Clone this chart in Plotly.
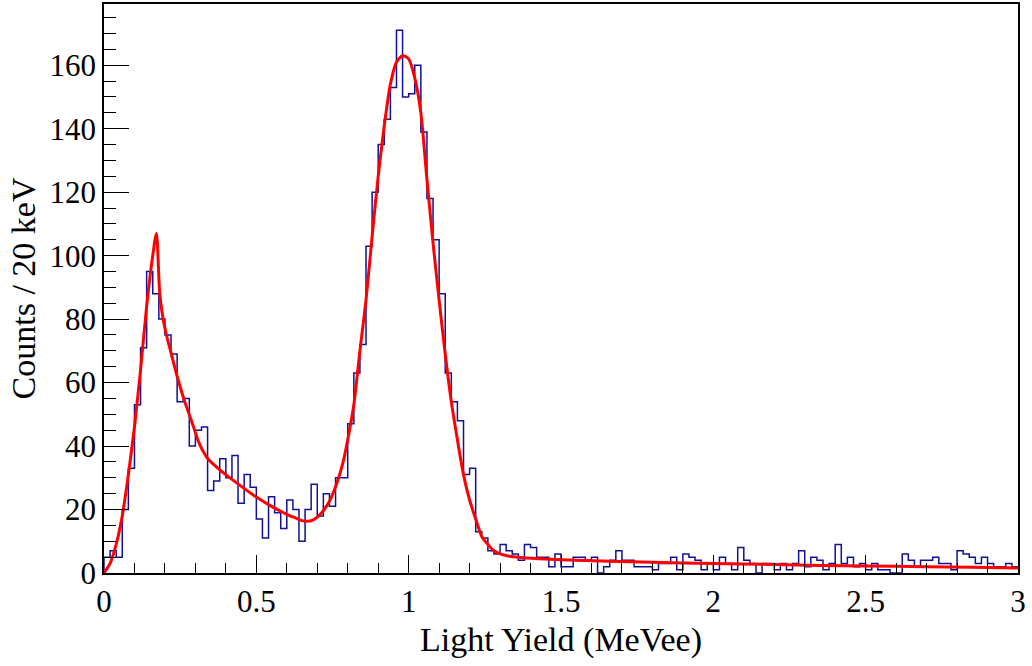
import numpy as np
import plotly.graph_objects as go

# ---- data ----
x_min, x_max, n_bins = 0.0, 3.0, 150
counts = [5, 7, 5, 20, 33, 53, 71, 95, 88, 80, 75, 69, 54, 55, 40, 45, 46, 26, 29, 36,
          30, 37, 22, 31, 27, 17, 11, 24, 19, 14, 23, 20, 10, 20, 28, 18, 25, 21, 30, 30,
          47, 63, 72, 103, 120, 135, 143, 153, 171, 150, 151, 160, 139, 118, 105, 88, 63, 54, 48, 31,
          33, 13, 11, 7, 6, 9, 7, 6, 4, 9, 8, 5, 5, 2, 6, 2, 2, 5, 5, 4,
          5, 0, 2, 4, 7, 4, 4, 2, 2, 2, 1, 3, 3, 5, 1, 6, 5, 4, 1, 3,
          1, 5, 3, 1, 8, 4, 3, 0, 3, 3, 1, 3, 1, 3, 7, 2, 5, 4, 1, 3,
          9, 3, 5, 2, 3, 1, 3, 1, 1, 0, 0, 6, 4, 2, 4, 4, 5, 3, 3, 1,
          7, 6, 5, 3, 5, 3, 2, 2, 3, 2]

fit_x = [0.0, 0.02, 0.04, 0.06, 0.08, 0.10, 0.12, 0.14, 0.16, 0.172, 0.183, 0.194, 0.205,
         0.221, 0.24, 0.265, 0.287, 0.314, 0.341, 0.38, 0.42, 0.49, 0.55, 0.60, 0.63, 0.65,
         0.67, 0.69, 0.71, 0.74, 0.765, 0.785, 0.80, 0.82, 0.84, 0.86, 0.88, 0.90, 0.92, 0.94,
         0.96, 0.98, 1.00, 1.02, 1.04, 1.06, 1.08, 1.10, 1.12, 1.14, 1.16, 1.18, 1.20, 1.22,
         1.24, 1.26, 1.28, 1.30, 1.33, 1.37, 1.45, 1.55, 1.66, 1.8, 2.0, 2.2, 2.35, 2.5, 2.7,
         2.85, 3.0]
fit_y = [0.0, 3, 9, 18, 31, 46, 64, 84, 100, 107, 88, 80, 75,
         69, 62, 54, 48, 40.5, 36, 32.5, 29.5, 24.6, 21, 18.5, 17.3, 16.5,
         16.3, 16.9, 18.5, 22.6, 28.5, 35, 42, 53, 70, 86, 106, 125, 141, 154,
         161, 163, 162, 156, 145, 124, 104, 86, 69, 54, 42, 31, 23, 17,
         11.5, 9, 7, 6, 5.3, 4.9, 4.4, 4.0, 3.7, 3.4, 3.0, 2.7, 2.4, 2.2, 2.0,
         1.8, 1.6]

x_ticks = [0, 0.5, 1, 1.5, 2, 2.5, 3]
x_ticktext = ["0", "0.5", "1", "1.5", "2", "2.5", "3"]
y_ticks = [0, 20, 40, 60, 80, 100, 120, 140, 160]

# ---- build histogram outline ----
edges = np.linspace(x_min, x_max, n_bins + 1)
hx = [edges[0]] + list(edges)
hy = [0] + list(counts) + [counts[-1]]

FONT = "Liberation Serif, Times New Roman, serif"

fig = go.Figure()
fig.add_trace(go.Scatter(x=hx, y=hy, mode="lines", line_shape="hv",
                         line=dict(color="#10109a", width=1.5), hoverinfo="skip",
                         showlegend=False))
fig.add_trace(go.Scatter(x=fit_x, y=fit_y, mode="lines", line_shape="spline",
                         line=dict(color="#ff0000", width=3, smoothing=0.7),
                         showlegend=False))

fig.update_layout(
    width=1032, height=666,
    margin=dict(l=104, r=14, t=2, b=93),
    paper_bgcolor="white", plot_bgcolor="white",
    font=dict(family=FONT, size=31, color="black"),
)
fig.update_xaxes(
    range=[x_min, x_max], showgrid=False, zeroline=False,
    showline=True, linecolor="black", linewidth=1.5, mirror=True,
    ticks="inside", ticklen=18, tickwidth=1.3, tickcolor="black",
    tickvals=x_ticks, ticktext=x_ticktext,
    minor=dict(dtick=0.1, ticks="inside", ticklen=10, tickwidth=1.3, tickcolor="black"),
    title=dict(text="Light Yield (MeVee)", standoff=9, font=dict(size=34)),
    tickfont=dict(size=31),
)
fig.update_yaxes(
    range=[0, 179.3], showgrid=False, zeroline=False,
    showline=True, linecolor="black", linewidth=1.5, mirror=True,
    ticks="inside", ticklen=25, tickwidth=1.3, tickcolor="black",
    tickvals=y_ticks,
    minor=dict(dtick=5, ticks="inside", ticklen=12, tickwidth=1.3, tickcolor="black"),
    title=dict(text="Counts / 20 keV", standoff=4, font=dict(size=34)),
    tickfont=dict(size=31),
)

fig.write_html("out.html")
